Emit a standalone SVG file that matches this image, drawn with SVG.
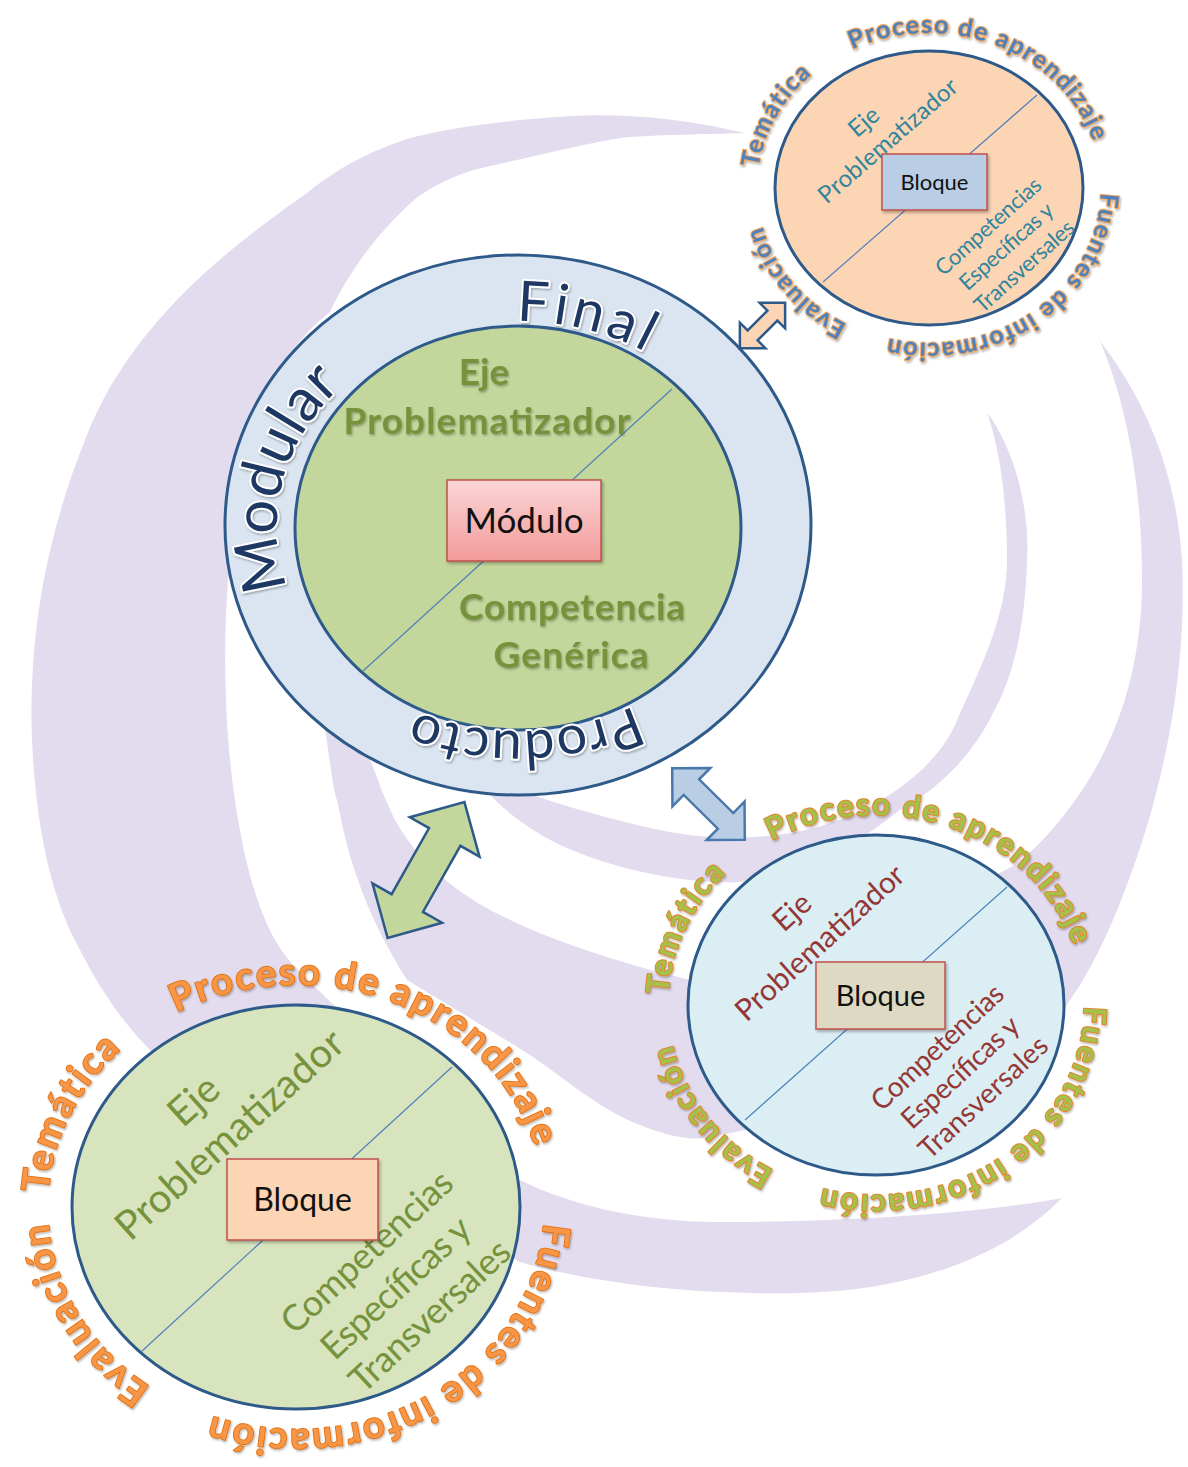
<svg xmlns="http://www.w3.org/2000/svg" width="1188" height="1467" viewBox="0 0 1188 1467">
<defs>
<style>
.band{fill:#e2dcee}
.circ{stroke:#2e5a8a;stroke-width:3}
.div{stroke:#4f81bd;stroke-width:1.2}
.box{stroke:#c0504d;stroke-width:1.5}
.f{font-family:Lato,"Liberation Sans","DejaVu Sans",sans-serif;text-anchor:middle}
.boxt{fill:#111111}
.ring{fill:#1f3864;stroke:#ffffff;stroke-width:4;paint-order:stroke;stroke-linejoin:round}
.cin{fill:#76923c;font-weight:bold;font-size:37px}
.tr-in{fill:#31859c;font-size:22px}
.tr-big{font-size:24px}
.br-in{fill:#953735;font-size:28px}
.br-big{font-size:30px}
.ll-in{fill:#76923c;font-size:36px}
.ll-big{font-size:40px}
.arc{font-weight:bold;paint-order:stroke;stroke-linejoin:round}
.tr-arc{fill:#4f81bd;stroke:#f2a65a;stroke-width:2.2;font-size:25px;letter-spacing:1.5px}
.br-arc{fill:#a4c24c;stroke:#e0882e;stroke-width:2.2;font-size:31px;letter-spacing:2px}
.ll-arc{fill:#f79646;stroke:#e36c09;stroke-width:1.6;font-size:38px;letter-spacing:2px}
.arr{stroke-width:2.5;stroke-linejoin:miter}
</style>
<linearGradient id="gPink" x1="0" y1="0" x2="0" y2="1"><stop offset="0" stop-color="#fbd6d6"/><stop offset="1" stop-color="#f29a9a"/></linearGradient>
<filter id="sh" x="-20%" y="-20%" width="150%" height="160%"><feDropShadow dx="1.5" dy="2" stdDeviation="1.5" flood-color="#000000" flood-opacity="0.3"/></filter>
<filter id="tsh" x="-10%" y="-20%" width="130%" height="150%"><feDropShadow dx="1" dy="1.5" stdDeviation="1.2" flood-color="#000000" flood-opacity="0.3"/></filter>
<path id="ringPath" d="M759,526 A241,205 0 1 1 277,526 A241,205 0 1 1 759,526"/>
<path id="trPath" d="M757,188 A172,155 0 1 1 1101,188 A172,155 0 1 1 757,188 A172,155 0 1 1 1101,188 A172,155 0 1 1 757,188"/>
<path id="brPath" d="M668,1005 A208,190 0 1 1 1084,1005 A208,190 0 1 1 668,1005 A208,190 0 1 1 1084,1005 A208,190 0 1 1 668,1005"/>
<path id="llPath" d="M48,1207 A248,222 0 1 1 544,1207 A248,222 0 1 1 48,1207 A248,222 0 1 1 544,1207 A248,222 0 1 1 48,1207"/>
</defs>
<rect width="1188" height="1467" fill="#ffffff"/>
<g id="background">
<path class="band" d="M745,133 C680,118 620,112 557,117 C500,121 450,128 414,137 C370,150 335,170 307,193 C240,240 130,320 85,440 C45,540 28,640 32,740 C36,830 52,900 80,950 C100,990 125,1025 150,1050 L520,1262 C600,1285 700,1295 800,1293 C900,1291 1000,1262 1062,1198 C1000,1210 870,1222 720,1222 C640,1222 570,1205 520,1180 L370,1040 C330,1000 300,975 285,955 C262,925 245,870 235,800 C226,740 222,660 228,580 C232,520 240,470 255,420 C275,370 300,335 330,312 C345,280 370,240 414,200 C440,180 470,170 486,167 C540,155 600,140 629,137 C680,134 720,134 745,133 Z"/>
<path class="band" d="M330,650 C326,690 324,715 325,730 C330,760 333,790 337,800 C343,830 350,860 358,880 C368,910 385,945 407,980 C440,1000 490,1030 530,1055 C560,1075 600,1110 640,1125 C670,1137 690,1140 705,1138 L900,1100 L1050,1030 L1080,985 C1095,960 1110,930 1125,890 C1160,800 1188,680 1182,560 C1176,470 1145,400 1100,341 C1125,400 1142,480 1142,580 C1142,680 1110,760 1060,820 C1040,845 1025,857 1013,866 L900,925 L720,975 L690,980 C630,965 560,945 500,915 C460,895 420,865 395,820 C385,800 378,780 373,767 L360,735 Z"/>
<path class="band" d="M470,770 C510,790 590,815 660,830 C720,843 800,842 867,808 C910,785 945,755 960,713 C985,660 1007,610 1007,560 C1007,500 1000,450 987,412 C1015,450 1030,510 1027,560 C1025,630 1012,680 993,713 C975,750 945,785 900,810 C850,850 790,880 740,882 C680,884 610,868 560,845 C520,825 490,800 470,770 Z"/>
</g>
<g id="node-modulo">
<ellipse cx="518" cy="525" rx="293" ry="270" fill="#dbe5f1" class="circ"/>
<ellipse cx="518" cy="528" rx="223" ry="202" fill="#c3d69b" class="circ"/>
<line x1="363" y1="671" x2="672" y2="389" class="div"/>
<g filter="url(#tsh)">
<text class="f cin" x="484" y="385">Eje</text>
<text class="f cin" x="487" y="434" textLength="287">Problematizador</text>
<text class="f cin" x="572" y="620" textLength="226">Competencia</text>
<text class="f cin" x="571" y="668" textLength="155">Genérica</text>
</g>
<rect x="447" y="480" width="154" height="81" fill="url(#gPink)" class="box" filter="url(#sh)"/>
<text class="f boxt" x="524" y="533" font-size="35">Módulo</text>
<g filter="url(#tsh)">
<text class="f ring" font-size="54" letter-spacing="1"><textPath href="#ringPath" startOffset="24.5%">Producto</textPath></text>
<text class="f ring" font-size="60"><textPath href="#ringPath" startOffset="53.4%">Modular</textPath></text>
<text class="f ring" font-size="56" letter-spacing="4"><textPath href="#ringPath" startOffset="79.8%">Final</textPath></text>
</g>
</g>
<g id="node-bloque-top">
<ellipse cx="929" cy="188" rx="154" ry="137" fill="#fcd5b5" class="circ"/>
<line x1="823" y1="282" x2="1037" y2="95" class="div"/>
<text class="f tr-in tr-big" transform="translate(864,122) rotate(-41)" y="8">Eje</text>
<text class="f tr-in tr-big" transform="translate(888,141) rotate(-41)" y="8" textLength="176">Problematizador</text>
<text class="f tr-in" transform="translate(988,226) rotate(-42)" y="8" textLength="134">Competencias</text>
<text class="f tr-in" transform="translate(1006,246) rotate(-42)" y="8" textLength="118">Específicas y</text>
<text class="f tr-in" transform="translate(1024,266) rotate(-42)" y="8" textLength="126">Transversales</text>
<rect x="882" y="154" width="105" height="56" fill="#b9cde5" class="box" filter="url(#sh)"/>
<text class="f boxt" x="934.5" y="189.5" font-size="22">Bloque</text>
<g filter="url(#tsh)">
<text class="f arc tr-arc"><textPath href="#trPath" startOffset="15.7%">Proceso de aprendizaje</textPath></text>
<text class="f arc tr-arc"><textPath href="#trPath" startOffset="32.4%">Fuentes de información</textPath></text>
<text class="f arc tr-arc"><textPath href="#trPath" startOffset="44.9%">Evaluación</textPath></text>
<text class="f arc tr-arc"><textPath href="#trPath" startOffset="53.7%">Temática</textPath></text>
</g>
</g>
<g id="node-bloque-right">
<ellipse cx="876" cy="1005" rx="188" ry="170" fill="#dbeef4" class="circ"/>
<line x1="745" y1="1120" x2="1007" y2="887" class="div"/>
<text class="f br-in br-big" transform="translate(792,912) rotate(-42)" y="10">Eje</text>
<text class="f br-in br-big" transform="translate(820,943) rotate(-42)" y="10" textLength="216">Problematizador</text>
<text class="f br-in" transform="translate(937,1047) rotate(-43)" y="10" textLength="170">Competencias</text>
<text class="f br-in" transform="translate(960,1072) rotate(-43)" y="10" textLength="150">Específicas y</text>
<text class="f br-in" transform="translate(983,1097) rotate(-43)" y="10" textLength="165">Transversales</text>
<rect x="816" y="962" width="129" height="67" fill="#ddd9c3" class="box" filter="url(#sh)"/>
<text class="f boxt" x="880.5" y="1005.5" font-size="29">Bloque</text>
<g filter="url(#tsh)">
<text class="f arc br-arc"><textPath href="#brPath" startOffset="15.4%">Proceso de aprendizaje</textPath></text>
<text class="f arc br-arc"><textPath href="#brPath" startOffset="32.4%">Fuentes de información</textPath></text>
<text class="f arc br-arc"><textPath href="#brPath" startOffset="45.1%">Evaluación</textPath></text>
<text class="f arc br-arc"><textPath href="#brPath" startOffset="53.2%">Temática</textPath></text>
</g>
</g>
<g id="node-bloque-left">
<ellipse cx="296" cy="1207" rx="224" ry="202" fill="#d7e4bd" class="circ"/>
<line x1="142" y1="1351" x2="452" y2="1067" class="div"/>
<text class="f ll-in ll-big" transform="translate(194,1101) rotate(-42)" y="13">Eje</text>
<text class="f ll-in ll-big" transform="translate(230,1135) rotate(-42)" y="13" textLength="292">Problematizador</text>
<text class="f ll-in" transform="translate(367,1252) rotate(-43)" y="12" textLength="220">Competencias</text>
<text class="f ll-in" transform="translate(396,1288) rotate(-43)" y="12" textLength="190">Específicas y</text>
<text class="f ll-in" transform="translate(430,1316) rotate(-43)" y="12" textLength="205">Transversales</text>
<rect x="227" y="1159" width="151" height="81" fill="#fcd5b4" class="box" filter="url(#sh)"/>
<text class="f boxt" x="302.5" y="1211" font-size="32">Bloque</text>
<g filter="url(#tsh)">
<text class="f arc ll-arc"><textPath href="#llPath" startOffset="15.65%">Proceso de aprendizaje</textPath></text>
<text class="f arc ll-arc"><textPath href="#llPath" startOffset="33%">Fuentes de información</textPath></text>
<text class="f arc ll-arc"><textPath href="#llPath" startOffset="46.1%">Evaluación</textPath></text>
<text class="f arc ll-arc"><textPath href="#llPath" startOffset="53.3%">Temática</textPath></text>
</g>
</g>
<g id="connectors">
<polygon class="arr" fill="#fbd5b5" stroke="#2e5a8a" transform="translate(762.5,325.5) rotate(-45)" points="-32,0 -14,-18 -14,-7 14,-7 14,-18 32,0 14,18 14,7 -14,7 -14,18"/>
<polygon class="arr" fill="#b9cde5" stroke="#4a78ad" transform="translate(708.5,804) rotate(44.6)" points="-51,0 -24,-27 -24,-11 24,-11 24,-27 51,0 24,27 24,11 -24,11 -24,27"/>
<polygon class="arr" fill="#c3d69b" stroke="#2e5a8a" transform="translate(426,870) rotate(-60.5)" points="-78,0 -38,-40 -38,-18 38,-18 38,-40 78,0 38,40 38,18 -38,18 -38,40"/>
</g>
</svg>
